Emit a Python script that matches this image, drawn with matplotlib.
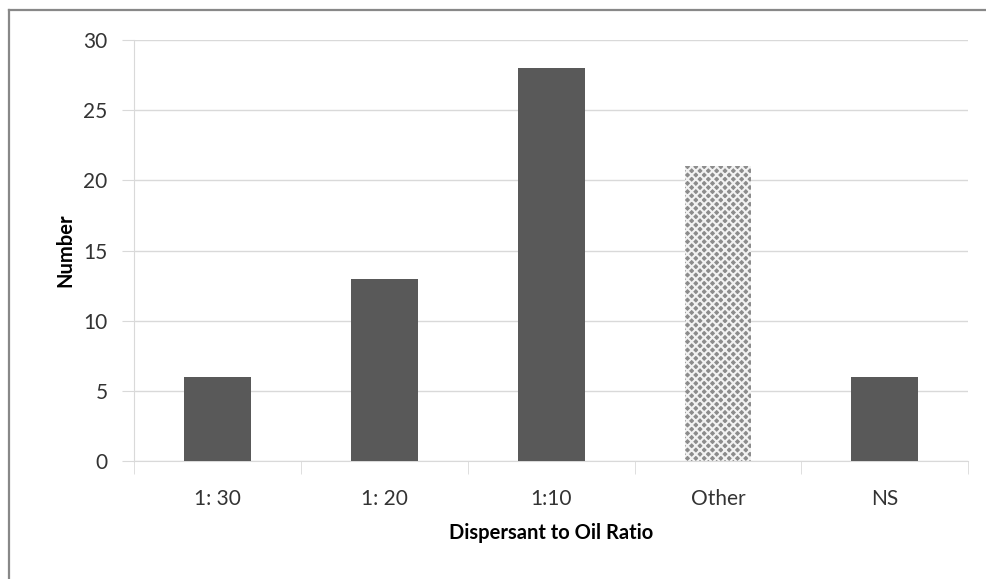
import matplotlib
matplotlib.use("Agg")
import matplotlib.pyplot as plt
from matplotlib.lines import Line2D

# Counts of studies by dispersant-to-oil ratio
categories = ["1: 30", "1: 20", "1:10", "Other", "NS"]
counts = [6, 13, 28, 21, 6]

plt.rcParams["font.family"] = ["Lato", "DejaVu Sans"]
plt.rcParams["hatch.linewidth"] = 1.5

fig = plt.figure(figsize=(9.86, 5.79), dpi=100)
ax = fig.add_axes([0.136, 0.2038, 0.846, 0.7271])

x = list(range(len(categories)))
bars = ax.bar(x, counts, width=0.40, color="#595959", linewidth=0, zorder=3)

# "Other" gets a fine grey checker fill
other = bars[categories.index("Other")]
other.set_facecolor("#8c8c8c")
other.set_edgecolor("#f2f2f2")
other.set_hatch("xxxx")
other.set_linewidth(0)

ax.set_xlim(-0.5, len(categories) - 0.5)
ax.set_ylim(0, 30)
ax.set_yticks(range(0, 31, 5))
ax.set_xticks(x)
ax.set_xticklabels(categories)
ax.set_xticks([i - 0.5 for i in range(len(categories) + 1)], minor=True)

ax.grid(axis="y", color="#d9d9d9", linewidth=1, zorder=0)
for s in ["top", "right"]:
    ax.spines[s].set_visible(False)
ax.spines["left"].set_color("#d9d9d9")
ax.spines["bottom"].set_color("#d9d9d9")

ax.tick_params(axis="y", length=9, color="#d9d9d9", labelsize=15,
               labelcolor="#333333", pad=10)
ax.tick_params(axis="x", which="major", length=0, labelsize=15,
               labelcolor="#333333", pad=20)
ax.tick_params(axis="x", which="minor", length=9, color="#d9d9d9")

ax.set_ylabel("Number", fontsize=14.5, fontweight="bold", labelpad=6)
ax.set_xlabel("Dispersant to Oil Ratio", fontsize=14.5, fontweight="bold",
              labelpad=10)

# Outer frame (only left and top edges fall inside the image)
fig.add_artist(Line2D([0.0095, 0.0095], [0, 0.983], color="#888888",
                      linewidth=1.6, transform=fig.transFigure))
fig.add_artist(Line2D([0.0095, 1.0], [0.983, 0.983], color="#888888",
                      linewidth=1.6, transform=fig.transFigure))

fig.savefig("out.png", dpi=100, facecolor="white")
